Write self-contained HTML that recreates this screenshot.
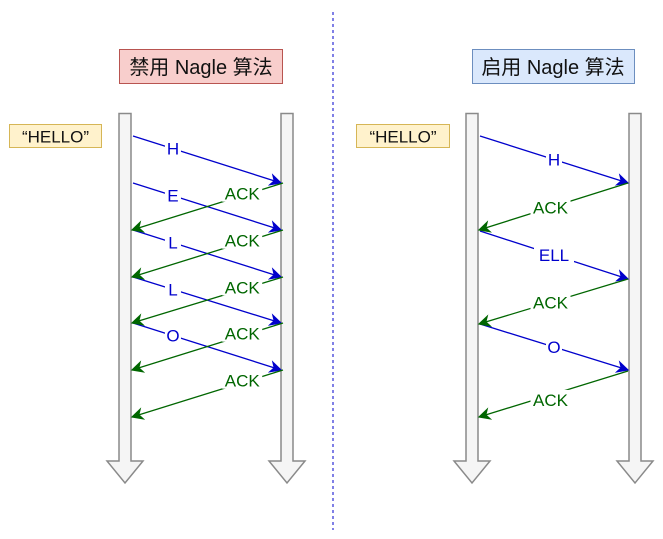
<!DOCTYPE html>
<html><head><meta charset="utf-8"><style>
html,body{margin:0;padding:0;background:#fff;}
svg{display:block;font-family:"Liberation Sans","Noto Sans CJK SC",sans-serif;}
</style></head><body>
<svg id="d" width="663" height="539" viewBox="0 0 663 539">
<defs>
<marker id="mb" viewBox="0 0 10 10" refX="9" refY="5" markerWidth="10" markerHeight="10" orient="auto"><path d="M0,0 L10,5 L0,10 L3,5 Z" fill="#0000cc"/></marker>
<marker id="mg" viewBox="0 0 10 10" refX="9" refY="5" markerWidth="10" markerHeight="10" orient="auto"><path d="M0,0 L10,5 L0,10 L3,5 Z" fill="#006600"/></marker>
</defs>
<line x1="333" y1="12" x2="333" y2="530" stroke="#0000cc" stroke-width="1" stroke-dasharray="3,3"/>
<rect x="119.5" y="49.5" width="163" height="34" fill="#f8cecc" stroke="#b85450"/>
<text x="201" y="74" font-size="20" text-anchor="middle" fill="#111">禁用 Nagle 算法</text>
<rect x="472.5" y="49.5" width="162" height="34" fill="#dae8fc" stroke="#6c8ebf"/>
<text x="553" y="74" font-size="20" text-anchor="middle" fill="#111">启用 Nagle 算法</text>
<rect x="9.5" y="124.5" width="92" height="23" fill="#fff2cc" stroke="#d6b656"/>
<text x="55.5" y="142.5" font-size="17" text-anchor="middle" fill="#111">“HELLO”</text>
<rect x="356.5" y="124.5" width="93" height="23" fill="#fff2cc" stroke="#d6b656"/>
<text x="403" y="142.5" font-size="17" text-anchor="middle" fill="#111">“HELLO”</text>
<g id="bars"></g>
<g id="msgs"></g>
</svg>
<script>
const barXs=[125,287,472,635];
const leftMsgs=["H","E","L","L","O"];
const leftSendY=[136,183,230,277,323];
const leftArriveY=[183,230,277,323,370];
const leftAckLabels=["ACK","ACK","ACK","ACK","ACK"];
const leftAckFromY=[183,230,277,323,370];
const leftAckToY=[230,277,323,370,417];
const rightMsgs=["H","ELL","O"];
const rightSendY=[136,231,324];
const rightArriveY=[183,279,370];
const rightAckFromY=[183,279,371];
const rightAckToY=[230,324,417];
const NS="http://www.w3.org/2000/svg";
const bars=document.getElementById('bars'),msgs=document.getElementById('msgs');
function mk(t,a,p){const e=document.createElementNS(NS,t);for(const k in a)e.setAttribute(k,a[k]);p.appendChild(e);return e;}
barXs.forEach((x,i)=>{
 const p=mk('path',{d:`M${x-6},113.5 L${x+6},113.5 L${x+6},461 L${x+18},461 L${x},483 L${x-18},461 L${x-6},461 Z`,fill:'#f5f5f5',stroke:'#8a8a8a','stroke-width':1.5},bars);
 
 
});
function arrow(x1,y1,x2,y2,color,marker,label,t,dy){
 const l=mk('line',{x1,y1,x2,y2,stroke:color,'stroke-width':1.3,'marker-end':`url(#${marker})`},msgs);
 
 
 const lx=x1+(x2-x1)*t,ly=y1+(y2-y1)*t+(dy||0);
 const w=label.length*12+4;
 const r=mk('rect',{x:lx-w/2,y:ly-10,width:w,height:18,fill:'#fff'},msgs);
 
 
 const tx=mk('text',{x:lx,y:ly+6,'font-size':17,'text-anchor':'middle',fill:color},msgs);
 tx.textContent=label;
 
 
}
const L1=131,L2=281,R1=479,R2=628;
leftMsgs.forEach((m,i)=>arrow(L1+2,leftSendY[i],L2,leftArriveY[i],'#0000cc','mb',m,0.27));
leftAckLabels.forEach((m,i)=>arrow(L2+2,leftAckFromY[i],L1+1,leftAckToY[i],'#006600','mg',m,0.27,-2));
rightMsgs.forEach((m,i)=>arrow(R1+1,rightSendY[i],R2,rightArriveY[i],'#0000cc','mb',m,0.5));
rightAckFromY.forEach((y,i)=>arrow(R2,y,R1,rightAckToY[i],'#006600','mg','ACK',0.52,i==2?5:0));
</script>
</body></html>
